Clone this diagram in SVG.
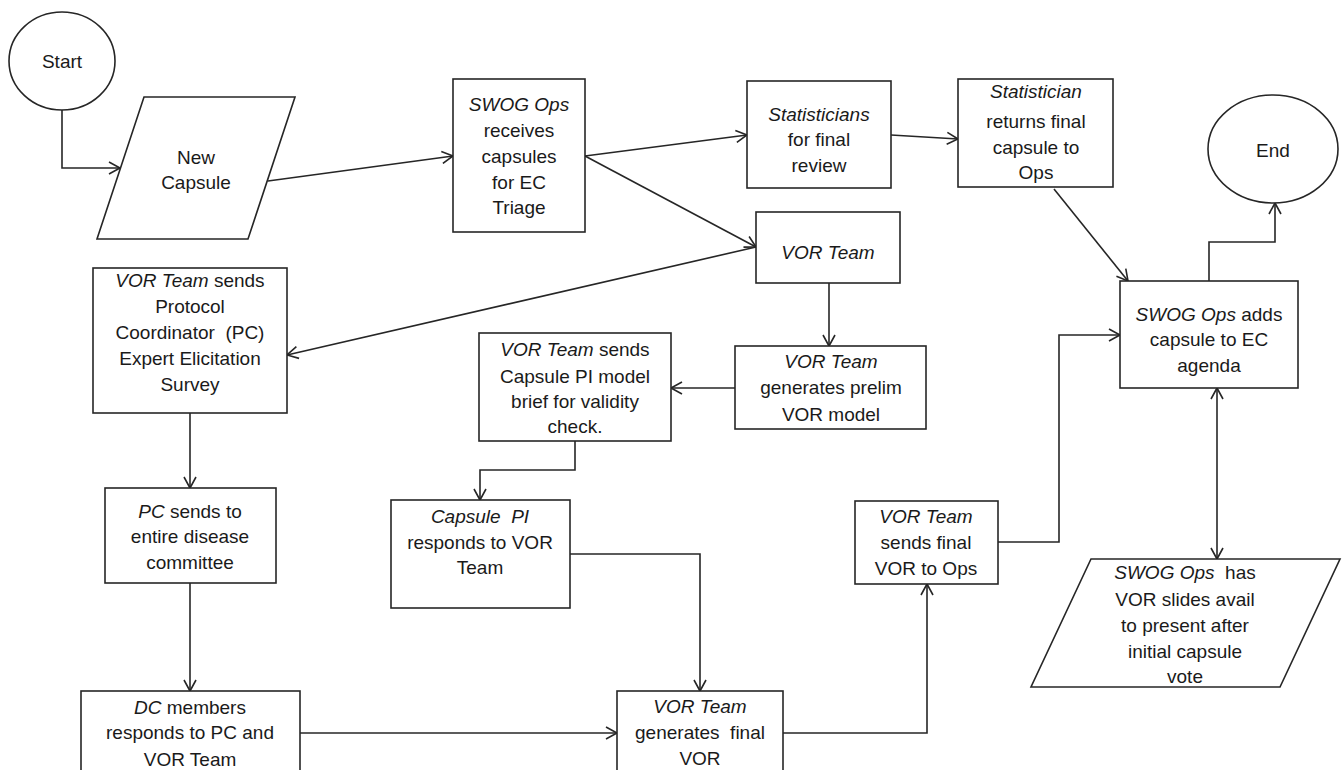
<svg xmlns="http://www.w3.org/2000/svg" width="1344" height="770" viewBox="0 0 1344 770">
<defs>
<style>
.n{fill:#fff;stroke:#262626;stroke-width:1.6}
.t{font-family:"Liberation Sans",Arial,sans-serif;font-size:19px;fill:#1a1a1a;text-anchor:middle}
.i{font-style:italic}
.c{fill:none;stroke:#262626;stroke-width:1.6}
</style>
<marker id="a" markerUnits="userSpaceOnUse" markerWidth="14" markerHeight="14" refX="12" refY="7" orient="auto-start-reverse">
<path d="M1,1 L12,7 L1,13" fill="none" stroke="#262626" stroke-width="1.6"/>
</marker>
</defs>
<rect width="1344" height="770" fill="#fff"/>

<g id="connectors">
<path class="c" d="M62,110 V168 H120" marker-end="url(#a)"/>
<path class="c" d="M268,181 L453,156" marker-end="url(#a)"/>
<path class="c" d="M585,156 L747,135" marker-end="url(#a)"/>
<path class="c" d="M585,156 L756,247" marker-end="url(#a)"/>
<path class="c" d="M891,135 L958,139" marker-end="url(#a)"/>
<path class="c" d="M1054,189 L1128,281" marker-end="url(#a)"/>
<path class="c" d="M1209,281 V242 H1275 V203" marker-end="url(#a)"/>
<path class="c" d="M756,247 L287,355" marker-end="url(#a)"/>
<path class="c" d="M829,283 V346" marker-end="url(#a)"/>
<path class="c" d="M735,388 H671" marker-end="url(#a)"/>
<path class="c" d="M575,441 V470 H480 V500" marker-end="url(#a)"/>
<path class="c" d="M190,398 V488" marker-end="url(#a)"/>
<path class="c" d="M190,583 V691" marker-end="url(#a)"/>
<path class="c" d="M300,733 H617" marker-end="url(#a)"/>
<path class="c" d="M570,554 H700 V691" marker-end="url(#a)"/>
<path class="c" d="M783,733 H927 V584" marker-end="url(#a)"/>
<path class="c" d="M998,542 H1059 V335 H1120" marker-end="url(#a)"/>
<path class="c" d="M1217,388 V559" marker-start="url(#a)" marker-end="url(#a)"/>
</g>

<g id="start">
<ellipse class="n" cx="62" cy="61" rx="53" ry="49"/>
<text class="t" x="62" y="68">Start</text>
</g>

<g id="new-capsule">
<polygon class="n" points="144,97 295,97 248,239 97,239"/>
<text class="t" x="196" y="164">New</text>
<text class="t" x="196" y="189">Capsule</text>
</g>

<g id="swog-receives">
<rect class="n" x="453" y="79" width="132" height="153"/>
<text class="t i" x="519" y="111">SWOG Ops</text>
<text class="t" x="519" y="137">receives</text>
<text class="t" x="519" y="163">capsules</text>
<text class="t" x="519" y="189">for EC</text>
<text class="t" x="519" y="214">Triage</text>
</g>

<g id="statisticians">
<rect class="n" x="747" y="81" width="144" height="107"/>
<text class="t i" x="819" y="121">Statisticians</text>
<text class="t" x="819" y="146">for final</text>
<text class="t" x="819" y="172">review</text>
</g>

<g id="statistician-returns">
<rect class="n" x="958" y="79" width="155" height="108"/>
<text class="t i" x="1036" y="98">Statistician</text>
<text class="t" x="1036" y="128">returns final</text>
<text class="t" x="1036" y="154">capsule to</text>
<text class="t" x="1036" y="179">Ops</text>
</g>

<g id="end">
<ellipse class="n" cx="1273" cy="149" rx="65" ry="54"/>
<text class="t" x="1273" y="157">End</text>
</g>

<g id="vor-team">
<rect class="n" x="756" y="212" width="144" height="71"/>
<text class="t i" x="828" y="259">VOR Team</text>
</g>

<g id="swog-adds">
<rect class="n" x="1120" y="281" width="178" height="107"/>
<text class="t" x="1209" y="321"><tspan class="i">SWOG Ops</tspan> adds</text>
<text class="t" x="1209" y="346">capsule to EC</text>
<text class="t" x="1209" y="372">agenda</text>
</g>

<g id="vor-sends-pc">
<rect class="n" x="93" y="268" width="194" height="145"/>
<text class="t" x="190" y="287"><tspan class="i">VOR Team</tspan> sends</text>
<text class="t" x="190" y="313">Protocol</text>
<text class="t" x="190" y="339" xml:space="preserve">Coordinator  (PC)</text>
<text class="t" x="190" y="365">Expert Elicitation</text>
<text class="t" x="190" y="391">Survey</text>
</g>

<g id="vor-sends-capsule-pi">
<rect class="n" x="479" y="333" width="192" height="108"/>
<text class="t" x="575" y="356"><tspan class="i">VOR Team</tspan> sends</text>
<text class="t" x="575" y="383">Capsule PI model</text>
<text class="t" x="575" y="408">brief for validity</text>
<text class="t" x="575" y="433">check.</text>
</g>

<g id="vor-prelim">
<rect class="n" x="735" y="346" width="191" height="83"/>
<text class="t i" x="831" y="368">VOR Team</text>
<text class="t" x="831" y="394">generates prelim</text>
<text class="t" x="831" y="421">VOR model</text>
</g>

<g id="pc-sends">
<rect class="n" x="105" y="488" width="171" height="95"/>
<text class="t" x="190" y="518"><tspan class="i">PC</tspan> sends to</text>
<text class="t" x="190" y="543">entire disease</text>
<text class="t" x="190" y="569">committee</text>
</g>

<g id="capsule-pi">
<rect class="n" x="391" y="500" width="179" height="108"/>
<text class="t i" x="480" y="523" xml:space="preserve">Capsule  PI</text>
<text class="t" x="480" y="549">responds to VOR</text>
<text class="t" x="480" y="574">Team</text>
</g>

<g id="vor-sends-final">
<rect class="n" x="855" y="501" width="143" height="83"/>
<text class="t i" x="926" y="523">VOR Team</text>
<text class="t" x="926" y="549">sends final</text>
<text class="t" x="926" y="575">VOR to Ops</text>
</g>

<g id="swog-has">
<polygon class="n" points="1091,559 1340,559 1280,687 1031,687"/>
<text class="t" x="1185" y="579" xml:space="preserve"><tspan class="i">SWOG Ops</tspan>  has</text>
<text class="t" x="1185" y="606">VOR slides avail</text>
<text class="t" x="1185" y="632">to present after</text>
<text class="t" x="1185" y="658">initial capsule</text>
<text class="t" x="1185" y="683">vote</text>
</g>

<g id="dc-members">
<rect class="n" x="81" y="691" width="219" height="90"/>
<text class="t" x="190" y="714"><tspan class="i">DC</tspan> members</text>
<text class="t" x="190" y="739">responds to PC and</text>
<text class="t" x="190" y="766">VOR Team</text>
</g>

<g id="vor-generates-final">
<rect class="n" x="617" y="691" width="166" height="90"/>
<text class="t i" x="700" y="713">VOR Team</text>
<text class="t" x="700" y="739" xml:space="preserve">generates  final</text>
<text class="t" x="700" y="765">VOR</text>
</g>
</svg>
